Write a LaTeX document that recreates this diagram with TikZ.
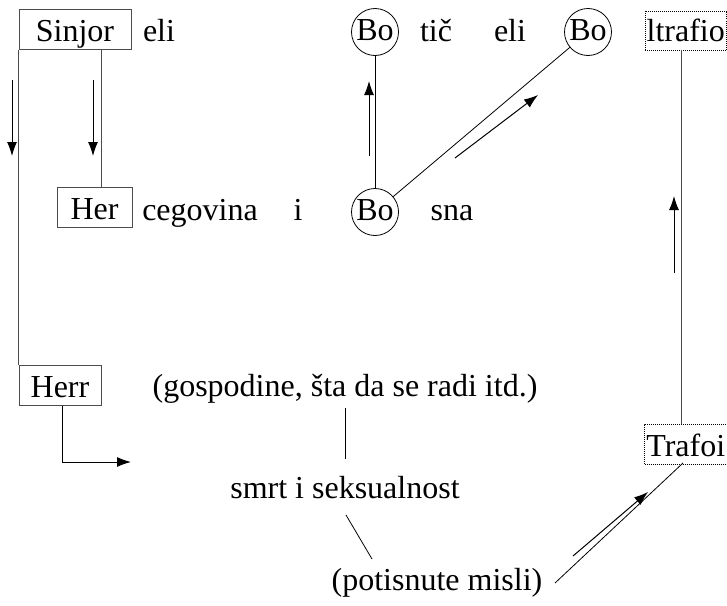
\documentclass[tikz,border=0pt]{standalone}
\usepackage{fontspec}
\setmainfont{Liberation Serif}
\usetikzlibrary{arrows.meta,calc}
\begin{document}
\begin{tikzpicture}[x=1pt,y=-1pt,
  every node/.style={font=\fontsize{32}{38}\selectfont},
  boxnode/.style={draw=black!70, line width=1pt, inner sep=0pt, text height=24pt, text depth=0pt, minimum height=40pt},
  dotbox/.style={draw, line width=0.6pt, dash pattern=on 1pt off 1pt, inner sep=0pt, text height=21pt, text depth=0pt},
  circ/.style={circle, draw, line width=0.8pt, inner sep=0pt, minimum size=47pt, text height=16pt, text depth=0pt},
  word/.style={anchor=base, inner sep=0pt},
  link/.style={line width=0.8pt},
  graylink/.style={line width=1pt, draw=black!70},
  tip/.style={-{Latex[length=14pt,width=10pt]}},
  arr/.style={line width=1pt, tip}
]
\useasboundingbox (0,0) rectangle (727,605);

% boxes
\node[boxnode, minimum width=112pt] (sinjor) at (75,29) {Sinjor};
\node[boxnode, minimum width=75pt] (her) at (94.5,207) {Her};
\node[boxnode, minimum width=82pt] (herr) at (60,385) {Herr};
\node[dotbox, minimum width=81.5pt, minimum height=39pt] (ltrafio) at (685.75,30.5) {ltrafio};
\node[dotbox, minimum width=82.5pt, minimum height=40pt, text height=24pt] (trafoi) at (685.75,444) {Trafoi};

% circles
\node[circ] (bo1) at (375,32) {Bo};
\node[circ] (bo2) at (375,212) {Bo};
\node[circ] (bo3) at (588,32) {Bo};

% words
\node[word] (eli1) at (159,41) {eli};
\node[word] (tic) at (436,41) {tič};
\node[word] (eli2) at (510,41) {eli};
\node[word] (cego) at (200,220) {cegovina};
\node[word] (i1) at (298,220) {i};
\node[word] (sna) at (452,220) {sna};
\node[word] (gosp) at (345,396) {(gospodine, šta da se radi itd.)};
\node[word] (smrt) at (345,498) {smrt i seksualnost};
\node[word] (potis) at (437,590) {(potisnute misli)};

% helper coordinates
\coordinate (xa) at (101,0);
\coordinate (xb) at (681,0);
\coordinate (xc) at (62,0);
\coordinate (herrend) at (131,462);
\coordinate (s1) at (346,515);
\coordinate (s2) at (372,559);
\coordinate (t1) at (683,463);
\coordinate (t2) at (555,583);

% connectors
\draw[graylink] (sinjor.south west) -- (herr.north west);
\draw[graylink] (sinjor.south -| xa) -- (her.north -| xa);
\draw[arr] (herr.south -| xc) |- (herrend);
\draw[link] (bo1) -- (bo2);
\draw[link] (bo2) -- (bo3);
\draw[graylink] (ltrafio.south -| xb) -- (trafoi.north -| xb);
\draw[link, shorten <=5pt, shorten >=17pt] (gosp.south) -- (smrt.north);
\draw[link] (s1) -- (s2);
\draw[link] (t1) -- (t2);

% direction arrows
\draw[arr] (12,80) -- (12,156);
\draw[arr] (93,80) -- (93,156);
\draw[arr] (369,156) -- (369,81);
\draw[arr] (455,158) -- (538,95);
\draw[arr] (674,273) -- (674,196);
\draw[arr] (573,556) -- (648,492);
\end{tikzpicture}
\end{document}
